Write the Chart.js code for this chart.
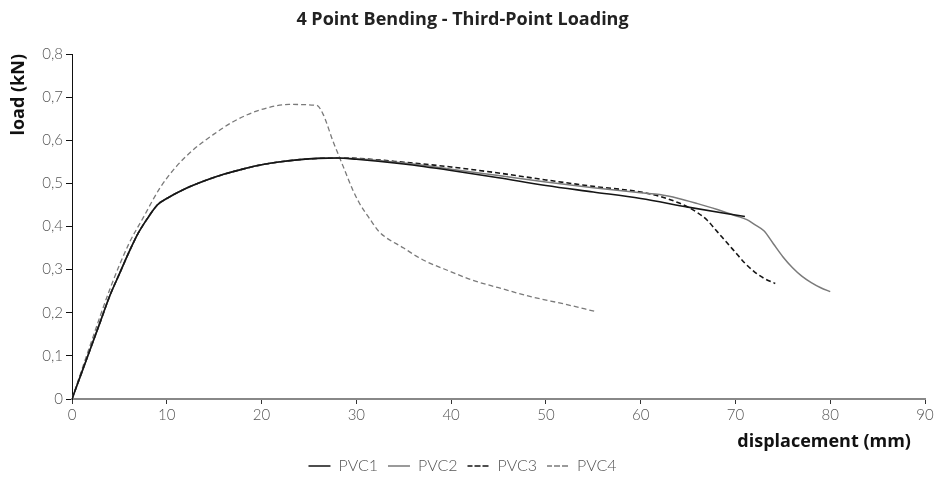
<!DOCTYPE html>
<html lang="en">
<head>
<meta charset="utf-8" />
<title>4 Point Bending - Third-Point Loading</title>
<script src="https://cdn.jsdelivr.net/npm/chart.js@4.4.1/dist/chart.umd.min.js"></script>
<style>
  html, body { margin: 0; padding: 0; background: #fff; }
  #wrap { width: 943px; height: 486px; position: relative; }
</style>
</head>
<body>
<div id="wrap"><canvas id="chart"></canvas></div>
<script>
// displacement (mm) / load (kN)
const pvc1X = [0, 1, 2, 3, 4, 5, 6, 7, 8, 9, 10, 12, 14, 16, 18, 20, 22, 24, 26, 28, 30, 35, 40, 45, 50, 55, 60, 65, 71]
const pvc1Y = [0, 0.06, 0.12, 0.18, 0.24, 0.29, 0.34, 0.385, 0.42, 0.45, 0.465, 0.488, 0.506, 0.521, 0.533, 0.543, 0.55, 0.555, 0.558, 0.559, 0.556, 0.545, 0.53, 0.513, 0.495, 0.48, 0.465, 0.445, 0.423]

const pvc2X = [0, 1, 2, 3, 4, 5, 6, 7, 8, 9, 10, 12, 14, 16, 18, 20, 22, 24, 26, 28, 30, 35, 40, 45, 50, 55, 60, 62, 64, 66, 68, 70, 71.2, 72, 73, 74, 75, 76, 77, 78, 79, 80]
const pvc2Y = [0, 0.06, 0.12, 0.18, 0.24, 0.29, 0.34, 0.385, 0.42, 0.45, 0.465, 0.488, 0.506, 0.521, 0.533, 0.543, 0.55, 0.555, 0.558, 0.559, 0.557, 0.547, 0.533, 0.518, 0.503, 0.49, 0.478, 0.474, 0.465, 0.453, 0.44, 0.425, 0.416, 0.405, 0.39, 0.36, 0.33, 0.305, 0.285, 0.27, 0.258, 0.249]

const pvc3X = [0, 1, 2, 3, 4, 5, 6, 7, 8, 9, 10, 12, 14, 16, 18, 20, 22, 24, 26, 28, 30, 35, 40, 45, 50, 55, 60, 62, 64, 65, 66, 67, 68, 69, 70, 71, 72, 73, 74.2]
const pvc3Y = [0, 0.06, 0.12, 0.18, 0.24, 0.29, 0.34, 0.385, 0.42, 0.45, 0.465, 0.488, 0.506, 0.521, 0.533, 0.543, 0.55, 0.555, 0.558, 0.559, 0.558, 0.549, 0.538, 0.524, 0.508, 0.493, 0.48, 0.47, 0.455, 0.445, 0.432, 0.415, 0.39, 0.365, 0.34, 0.315, 0.295, 0.28, 0.268]

const pvc4X = [0, 2, 4, 6, 7.5, 9.3, 11, 12.8, 14.9, 17, 19.8, 22.9, 25.8, 26.5, 27.5, 28.6, 29.6, 30.3, 31.5, 32.4, 35, 37, 40, 42.2, 45, 48.5, 52, 55.2]
const pvc4Y = [0, 0.13, 0.255, 0.36, 0.42, 0.49, 0.539, 0.578, 0.613, 0.643, 0.67, 0.683, 0.681, 0.66, 0.6, 0.54, 0.486, 0.455, 0.415, 0.388, 0.35, 0.323, 0.295, 0.276, 0.258, 0.237, 0.22, 0.203]

const seriesNames = ['PVC1', 'PVC2', 'PVC3', 'PVC4']
const xTicks = [0, 10, 20, 30, 40, 50, 60, 70, 80, 90]
const yTicks = [0, 0.1, 0.2, 0.3, 0.4, 0.5, 0.6, 0.7, 0.8]

const pts = (xs, ys) => xs.map((x, i) => ({ x, y: ys[i] }))

const tickFont = { family: 'Lato', size: 15, weight: '300' }
const boldFont = { family: '"Open Sans"', size: 18, weight: 'bold', lineHeight: 1 }

function line(label, data, color, width, dash) {
  return {
    label,
    data,
    borderColor: color,
    backgroundColor: color,
    borderWidth: width,
    borderDash: dash,
    pointRadius: 0,
    cubicInterpolationMode: 'monotone',
    fill: false,
  }
}

new Chart(document.getElementById('chart'), {
  type: 'line',
  data: {
    datasets: [
      line(seriesNames[0], pts(pvc1X, pvc1Y), '#151515', 1.6, []),
      line(seriesNames[1], pts(pvc2X, pvc2Y), '#7a7a7a', 1.5, []),
      line(seriesNames[2], pts(pvc3X, pvc3Y), '#151515', 1.6, [5, 3]),
      line(seriesNames[3], pts(pvc4X, pvc4Y), '#7a7a7a', 1.3, [5, 3]),
    ],
  },
  options: {
    responsive: true,
    maintainAspectRatio: false,
    animation: false,
    devicePixelRatio: 1,
    layout: { padding: { left: 0, right: 18, top: 0, bottom: 2 } },
    plugins: {
      title: {
        display: true,
        text: '4 Point Bending - Third-Point Loading',
        color: '#222',
        font: { family: '"Open Sans"', size: 18, weight: 'bold', lineHeight: 1.2 },
        padding: { top: 9, bottom: 23.4 },
      },
      legend: {
        position: 'bottom',
        labels: {
          boxWidth: 22,
          boxHeight: 0,
          color: '#555',
          font: { family: 'Lato', size: 16, weight: '300' },
          padding: 10,
        },
      },
      tooltip: { enabled: false },
    },
    scales: {
      x: {
        type: 'linear',
        min: 0,
        max: 90,
        afterBuildTicks: (s) => { s.ticks = xTicks.map((v) => ({ value: v })) },
        afterFit: (s) => { s.height = 49 },
        border: { color: '#888', width: 2 },
        grid: { drawOnChartArea: false, drawTicks: true, tickLength: 5, color: '#333' },
        ticks: { color: '#555', font: tickFont, padding: 2, maxRotation: 0 },
        title: {
          display: true,
          text: 'displacement (mm)   ',
          align: 'end',
          color: '#111',
          font: boldFont,
          padding: { top: 0, bottom: -3 },
        },
      },
      y: {
        type: 'linear',
        min: 0,
        max: 0.8,
        afterBuildTicks: (s) => { s.ticks = yTicks.map((v) => ({ value: v })) },
        afterFit: (s) => { s.width = 72 },
        border: { color: '#111', width: 1 },
        grid: { drawOnChartArea: false, drawTicks: true, tickLength: 6, color: '#111' },
        ticks: {
          color: '#555',
          font: tickFont,
          padding: 3,
          callback: (v) => (v === 0 ? '0' : Number(v).toFixed(1).replace('.', ',')),
        },
        title: {
          display: true,
          text: 'load (kN)',
          align: 'end',
          color: '#111',
          font: boldFont,
          padding: { top: 10, bottom: 0 },
        },
      },
    },
  },
})
</script>
</body>
</html>
